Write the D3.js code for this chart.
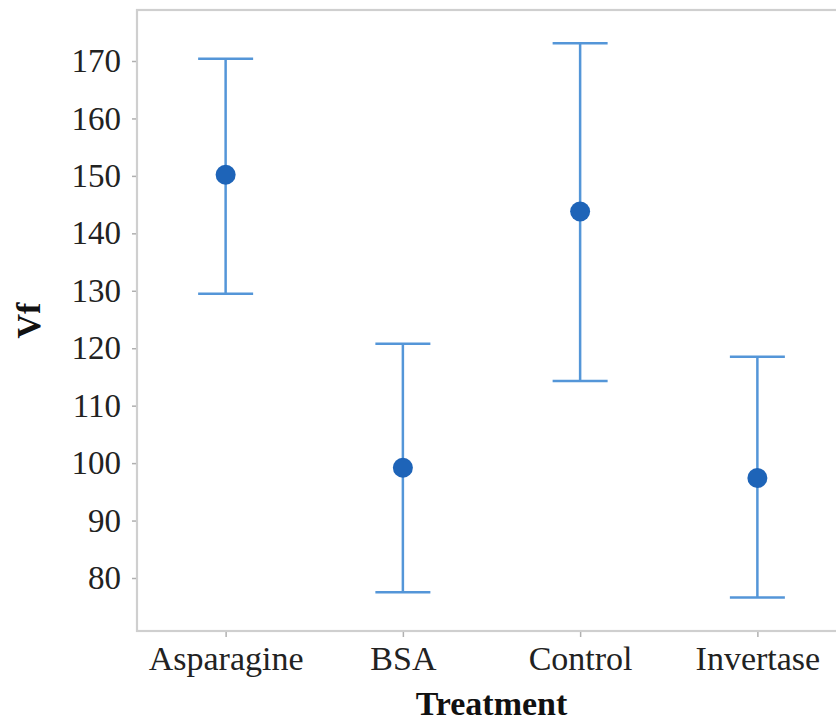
<!DOCTYPE html>
<html>
<head>
<meta charset="utf-8">
<script src="https://cdn.jsdelivr.net/npm/d3@7"></script>
<style>
  html, body { margin: 0; padding: 0; background: #fff; }
  svg { display: block; }
  .axis text { font-family: "Liberation Serif", "Times New Roman", serif; fill: #222; }
  .axis-y text { font-size: 33px; }
  .axis-x text { font-size: 34px; }
  .axis path { display: none; }
  .axis line { stroke: #b0b0b0; stroke-width: 1.5; }
</style>
</head>
<body>
<div id="chart"></div>
<script>
// data
const treatments = ['Asparagine', 'BSA', 'Control', 'Invertase'];
const means = [150.2, 99.2, 143.8, 97.4];
const upper = [170.4, 120.8, 173.1, 118.5];
const lower = [129.5, 77.5, 114.3, 76.6];
const yTicks = [80, 90, 100, 110, 120, 130, 140, 150, 160, 170];

const width = 836, height = 723;
const frame = {l: 137, t: 10, r: 846, b: 631};

const svg = d3.select('#chart').append('svg')
    .attr('width', width)
    .attr('height', height);

// scales
const scaleX = d3.scalePoint()
    .domain(treatments)
    .range([frame.l, frame.r])
    .padding(0.5);

const scaleY = d3.scaleLinear()
    .domain([80, 170])
    .range([578, 61]);

// frame
svg.append('rect')
    .attr('x', frame.l)
    .attr('y', frame.t)
    .attr('width', frame.r - frame.l)
    .attr('height', frame.b - frame.t)
    .attr('fill', 'none')
    .attr('stroke', '#cfcfcf')
    .attr('stroke-width', 2.2);

// axes
const axisY = d3.axisLeft(scaleY)
    .tickValues(yTicks)
    .tickSize(4)
    .tickPadding(11);
svg.append('g')
    .attr('class', 'axis axis-y')
    .attr('transform', `translate(${frame.l - 1},0)`)
    .call(axisY);

const axisX = d3.axisBottom(scaleX)
    .tickSize(5)
    .tickPadding(9);
svg.append('g')
    .attr('class', 'axis axis-x')
    .attr('transform', `translate(0,${frame.b + 1})`)
    .call(axisX);

// axis titles
svg.append('text')
    .attr('x', (frame.l + frame.r) / 2)
    .attr('y', 715)
    .attr('text-anchor', 'middle')
    .style('font-family', '"Liberation Serif", "Times New Roman", serif')
    .style('font-size', '34px')
    .style('font-weight', 'bold')
    .attr('fill', '#111')
    .text('Treatment');

svg.append('text')
    .attr('transform', `translate(40,${(frame.t + frame.b) / 2}) rotate(-90)`)
    .attr('text-anchor', 'middle')
    .style('font-family', '"Liberation Serif", "Times New Roman", serif')
    .style('font-size', '34px')
    .style('font-weight', 'bold')
    .attr('fill', '#111')
    .text('Vf');

// error bars
const rows = treatments.map((t, i) => ({t, mean: means[i], hi: upper[i], lo: lower[i]}));
const capW = 27.5;
const lineColor = '#5496d8';

const bars = svg.append('g').selectAll('.bar')
    .data(rows)
    .enter()
    .append('g')
    .attr('class', 'bar');

bars.append('line')
    .attr('x1', d => scaleX(d.t))
    .attr('x2', d => scaleX(d.t))
    .attr('y1', d => scaleY(d.hi))
    .attr('y2', d => scaleY(d.lo))
    .attr('stroke', lineColor)
    .attr('stroke-width', 2.5);

bars.append('line')
    .attr('x1', d => scaleX(d.t) - capW)
    .attr('x2', d => scaleX(d.t) + capW)
    .attr('y1', d => scaleY(d.hi))
    .attr('y2', d => scaleY(d.hi))
    .attr('stroke', lineColor)
    .attr('stroke-width', 2.5);

bars.append('line')
    .attr('x1', d => scaleX(d.t) - capW)
    .attr('x2', d => scaleX(d.t) + capW)
    .attr('y1', d => scaleY(d.lo))
    .attr('y2', d => scaleY(d.lo))
    .attr('stroke', lineColor)
    .attr('stroke-width', 2.5);

bars.append('circle')
    .attr('cx', d => scaleX(d.t))
    .attr('cy', d => scaleY(d.mean))
    .attr('r', 10)
    .attr('fill', '#1e64b8');
</script>
</body>
</html>
